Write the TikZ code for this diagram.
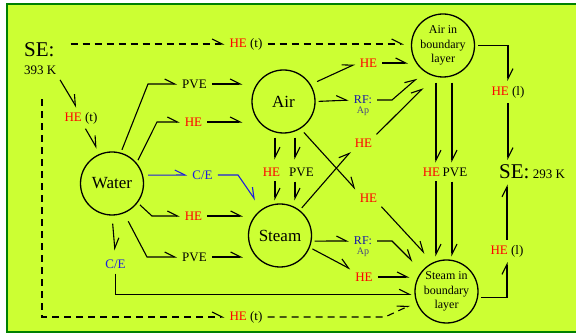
\documentclass[tikz,border=0pt]{standalone}
\usepackage{fontspec}
\setmainfont{Liberation Serif}
\usetikzlibrary{arrows.meta,positioning}
\definecolor{bgyellow}{RGB}{204,255,51}
\definecolor{framegreen}{RGB}{0,128,0}
\definecolor{heatred}{RGB}{255,0,0}
\definecolor{ceblue}{RGB}{30,30,220}
\definecolor{rfblue}{RGB}{20,20,170}
\definecolor{apgray}{RGB}{70,70,130}
\tikzset{
	substance/.style={circle,
		draw,
		line width=1.3pt,
		minimum size=63pt,
		inner sep=0pt,
		font=\fontsize{17}{20}\selectfont,
		},
	layer/.style={substance,
		align=center,
		font=\fontsize{12}{14.5}\selectfont,
		},
	every node/.style={inner sep=2pt, font=\fontsize{13}{15}\selectfont},
	hot/.style={text=heatred},
	cond/.style={text=ceblue},
	rf/.style={text=rfblue,
		font=\fontsize{12}{13}\selectfont,
		label={[text=apgray, font=\fontsize{10}{11}\selectfont, inner sep=0pt]below:Ap},
		},
	flow/.style={-{Straight Barb[left,length=10pt,width=10pt]},
		line width=1.1pt,
		shorten <=3pt,
		shorten >=3pt,
		},
	heat/.style={flow, dash pattern=on 7pt off 5pt},
	ceflow/.style={flow, draw=ceblue},
	gap/.style={shorten >=#1},
	lead/.style={shorten <=#1},
}

\begin{document}
\begin{tikzpicture}[x=1pt,y=-1pt]
	\useasboundingbox (0,0) rectangle (576,336);
	\fill[bgyellow] (6,3) rectangle (576,333);
	\draw[framegreen, line width=2pt] (576,4) -- (7,4) -- (7,332) -- (576,332);

	% substances
	\node[substance] (water) at (112,183.5) {Water};
	\node[substance] (air) at (283.5,101.5) {Air};
	\node[substance] (steam) at (280,235.5) {Steam};
	\node[layer] (airbl) at (443,45.5) {Air in\\boundary\\layer};
	\node[layer] (steambl) at (446.5,291.5) {Steam in\\boundary\\layer};

	% surroundings
	\node[anchor=base west, align=left] (se1) at (22,75)
		{\fontsize{21}{21}\selectfont SE:\\[3pt]\fontsize{13}{15}\selectfont 393 K};
	\node[anchor=base west] (se2) at (497,179)
		{\fontsize{21}{21}\selectfont SE:\fontsize{13}{13}\selectfont\ 293 K};

	% transfer labels
	\node (hetop) at (246,44) {\textcolor{heatred}{HE} (t)};
	\node (heleft) at (81,118) {\textcolor{heatred}{HE} (t)};
	\node (hebot) at (246,317) {\textcolor{heatred}{HE} (t)};
	\node (pveup) at (194.5,84) {PVE};
	\node[hot] (heup) at (193.5,122) {HE};
	\node[cond] (ceright) at (202.5,175) {C/E};
	\node[hot] (helow) at (193.5,216) {HE};
	\node (pvelow) at (194.5,257) {PVE};
	\node[cond] (cedown) at (115.5,264) {C/E};
	\node[hot] (heairbl) at (368.5,63) {HE};
	\node[rf] (rfair) at (363,100) {RF:};
	\node[hot] (hesa) at (363.5,143) {HE};
	\node[hot] (heas) at (368.5,198) {HE};
	\node[rf] (rfsteam) at (363,241) {RF:};
	\node[hot] (hessb) at (364,277) {HE};
	\node[hot] (heair2) at (271.5,172) {HE};
	\node (pveair2) at (301.5,172) {PVE};
	\node[hot] (hebl2) at (431.5,172) {HE};
	\node (pvebl2) at (455,172) {PVE};
	\node (hel1) at (508,92) {\textcolor{heatred}{HE} (l)};
	\node (hel2) at (507,251) {\textcolor{heatred}{HE} (l)};

	% heat with the surroundings
	\draw[heat, lead=12pt] (se1.east |- hetop.west) -- (hetop.west);
	\draw[heat, gap=7pt] (hetop.east) -- (hetop.east -| airbl.west);
	\draw[heat, lead=22pt] (se1.south -| 42,0) |- (hebot.west);
	\draw[heat, gap=7pt] (hebot.east) -- (hebot.east -| 385,0) -- (steambl.200);
	\draw[flow] (se1.south east) -- (heleft.110);
	\draw[flow, gap=6pt] (heleft.-70) -- (water.112);

	% from water
	\draw[flow] (water.74) -- (148,0 |- pveup) -- (pveup.west);
	\draw[flow, gap=9pt] (pveup.east) -- (pveup -| air.west);
	\draw[flow] (water.40) -- (157,0 |- heup) -- (heup.west);
	\draw[flow, gap=9pt] (heup.east) -- (heup -| air.west);
	\draw[ceflow, lead=5pt] (water.15) -- (ceright.west);
	\draw[ceflow, gap=11pt] (ceright.east) -- (238,0 |- ceright) -- (steam.125);
	\draw[flow] (water.-37) -- (152,0 |- helow) -- (helow.west);
	\draw[flow, gap=5pt] (helow.east) -- (helow -| steam.west);
	\draw[flow, lead=9pt] (water.-68) -- (147,0 |- pvelow) -- (pvelow.west);
	\draw[flow, gap=5pt] (pvelow.east) -- (pvelow -| steam.west);
	\draw[flow, lead=8pt, gap=7pt] (water.south) -- (cedown.north);
	\draw[flow] (cedown.south) |- (steambl.185);

	% from air
	\draw[flow, lead=7pt] (air.32) -- (heairbl.west);
	\draw[flow] (heairbl.east) -- (heairbl -| airbl.west);
	\draw[flow] (air.east) -- (rfair.west);
	\draw[flow, gap=10pt] (rfair.east) -- (392,0 |- rfair) -- (airbl.235);
	\draw[flow, lead=5pt] (air.-58) -- (heas.north west);
	\draw[flow, gap=12pt] (heas.south east) -- (steambl.115);
	\draw[flow, lead=4pt, gap=6pt] (air.south -| 275,0) -- (275,0 |- heair2.north);
	\draw[flow, lead=4pt, gap=6pt] (air.south -| 295,0) -- (295,0 |- pveair2.north);
	\draw[flow] (275,0 |- heair2.south) -- (steam.north -| 275,0);
	\draw[flow] (295,0 |- pveair2.south) -- (steam.north -| 295,0);

	% from steam
	\draw[flow] (steam.52) -- (hesa.south west);
	\draw[flow, gap=16pt] (hesa.north east) -- (airbl.255);
	\draw[flow] (steam.-10) -- (rfsteam.west);
	\draw[flow, gap=13pt] (rfsteam.east) -- (392,0 |- rfsteam) -- (steambl.140);
	\draw[flow] (steam.-22) -- (hessb.north west);
	\draw[flow, gap=5pt] (hessb.east) -- (hessb -| steambl.west);

	% boundary layers
	\draw[flow, lead=5pt] (airbl.south -| 436,0) -- (436,0 |- hebl2.north);
	\draw[flow, lead=5pt] (airbl.south -| 452,0) -- (452,0 |- pvebl2.north);
	\draw[flow] (436,0 |- hebl2.south) -- (steambl.north -| 436,0);
	\draw[flow] (452,0 |- pvebl2.south) -- (steambl.north -| 452,0);
	\draw[flow] (airbl.east) -| (hel1.north);
	\draw[flow] (hel1.south) -- (hel1 |- se2.north);
	\draw[flow] (steambl.-10) -| (hel2.south);
	\draw[flow] (hel2.north) -- (hel2 |- se2.south);
\end{tikzpicture}
\end{document}
